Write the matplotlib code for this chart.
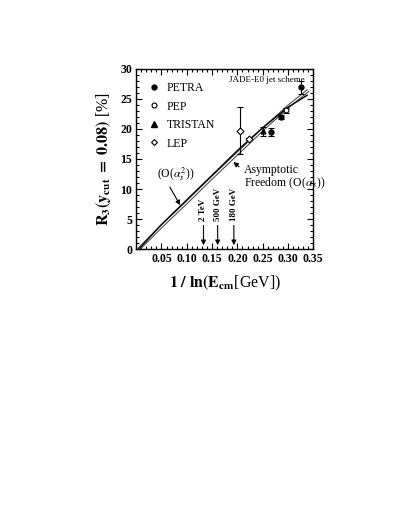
import matplotlib
matplotlib.use("Agg")
import matplotlib.pyplot as plt
from matplotlib.ticker import MultipleLocator
from matplotlib.lines import Line2D

plt.rcParams['font.family'] = ['Liberation Serif', 'DejaVu Serif']
plt.rcParams['mathtext.fontset'] = 'stix'

# Theory curves
x_nlo = [0.005, 0.05, 0.10, 0.15, 0.20, 0.25, 0.30, 0.338]
y_nlo = [0.0, 4.1, 8.2, 12.3, 16.4, 20.2, 23.6, 25.6]
x_af = [0.005, 0.05, 0.10, 0.15, 0.20, 0.25, 0.30, 0.340]
y_af = [0.0, 3.8, 7.8, 11.9, 15.9, 19.9, 23.7, 26.4]

# Data
petra_x = [0.266, 0.287, 0.326]
petra_y = [19.5, 22.0, 26.9]
petra_e = [0.7, 0.3, 1.1]
pep_x = [0.296]
pep_y = [23.1]
pep_e = [0.45]
tristan_x = [0.250]
tristan_y = [19.6]
tristan_e = [0.75]
lep_x = [0.205, 0.223]
lep_y = [19.7, 18.3]
lep_e = [3.9, 0.2]

arrow_x = [0.133, 0.161, 0.193]
arrow_lbl = ['2 TeV', '500 GeV', '180 GeV']

fig = plt.figure(figsize=(4.09, 5.29), dpi=100)
ax = fig.add_axes([0.333, 0.529, 0.433, 0.341])

ax.plot(x_af, y_af, color='#444444', lw=2.4, solid_capstyle='butt', zorder=2)
ax.plot(x_af, y_af, color='white', lw=0.9, solid_capstyle='butt', zorder=2.1)
ax.plot(x_nlo, y_nlo, color='black', lw=1.0, zorder=2.2)

ekw = dict(ecolor='black', elinewidth=0.8, capsize=2.5, capthick=0.8, ms=3.5, zorder=3, linestyle='none')
ax.errorbar(petra_x, petra_y, yerr=petra_e, fmt='o', mfc='black', mec='black', **ekw)
ax.errorbar(pep_x, pep_y, yerr=pep_e, fmt='o', mfc='white', mec='black', mew=0.8, **ekw)
ax.errorbar(tristan_x, tristan_y, yerr=tristan_e, fmt='^', mfc='black', mec='black', **ekw)
ax.errorbar(lep_x, lep_y, yerr=lep_e, fmt='D', mfc='white', mec='black', mew=0.8, **ekw)

handles = [
    Line2D([], [], ls='none', marker='o', mfc='black', mec='black', ms=3.5),
    Line2D([], [], ls='none', marker='o', mfc='white', mec='black', mew=0.8, ms=3.5),
    Line2D([], [], ls='none', marker='^', mfc='black', mec='black', ms=4),
    Line2D([], [], ls='none', marker='D', mfc='white', mec='black', mew=0.8, ms=3),
]
ax.legend(handles, ['PETRA', 'PEP', 'TRISTAN', 'LEP'], loc='upper left',
          bbox_to_anchor=(0.0, 0.985), frameon=False, fontsize=8.5,
          handlelength=1.2, handletextpad=0.5, labelspacing=0.55)

ax.text(0.332, 28.2, 'JADE-E0 jet scheme', fontsize=6.5, ha='right', va='center')

ax.set_xlim(0, 0.35)
ax.set_ylim(0, 30)
ax.xaxis.set_major_locator(MultipleLocator(0.05))
ax.xaxis.set_minor_locator(MultipleLocator(0.01))
ax.yaxis.set_major_locator(MultipleLocator(5))
ax.yaxis.set_minor_locator(MultipleLocator(1))
ax.tick_params(which='both', direction='in', top=True, right=True, width=0.8)
ax.tick_params(which='major', length=4, labelsize=8.5, pad=3)
ax.tick_params(which='minor', length=2)
ax.set_xticks([0.05, 0.10, 0.15, 0.20, 0.25, 0.30, 0.35])
ax.set_xticklabels(['0.05', '0.10', '0.15', '0.20', '0.25', '0.30', '0.35'])
ax.set_yticks([0, 5, 10, 15, 20, 25, 30])
for lbl in ax.get_xticklabels() + ax.get_yticklabels():
    lbl.set_fontweight('bold')
for s in ax.spines.values():
    s.set_linewidth(1.0)

ax.set_xlabel(r'$\mathbf{1\ /\ ln(E_{cm}}$[GeV])', fontsize=11.5, labelpad=6)
ax.set_ylabel(r'$\mathbf{R_3(y_{cut}\ =\ 0.08)}$ [%]', fontsize=11.5, labelpad=5)

for xa, lb in zip(arrow_x, arrow_lbl):
    ax.annotate('', xy=(xa, 0.2), xytext=(xa, 4.4),
                arrowprops=dict(arrowstyle='-|>', color='black', lw=0.8, mutation_scale=7))
    ax.text(xa, 4.6, lb, rotation=90, fontsize=6.5, fontweight='bold', ha='center', va='bottom')

ax.annotate(r'(O($\alpha_s^2$))', xy=(0.087, 7.3), xytext=(0.077, 12.4),
            fontsize=8.5, ha='center', va='center',
            arrowprops=dict(arrowstyle='-|>', color='black', lw=0.8, mutation_scale=7,
                            shrinkA=1, shrinkB=0, relpos=(0.3, 0.0)))
ax.annotate('Asymptotic\nFreedom (O($\\alpha_{\\,s}$))', xy=(0.192, 14.5), xytext=(0.213, 11.9),
            fontsize=8.5, ha='left', va='center', linespacing=0.95,
            arrowprops=dict(arrowstyle='-|>', color='black', lw=0.8, mutation_scale=7,
                            shrinkA=2, shrinkB=0, relpos=(0.0, 0.75)))

fig.savefig('out.png', dpi=100)
